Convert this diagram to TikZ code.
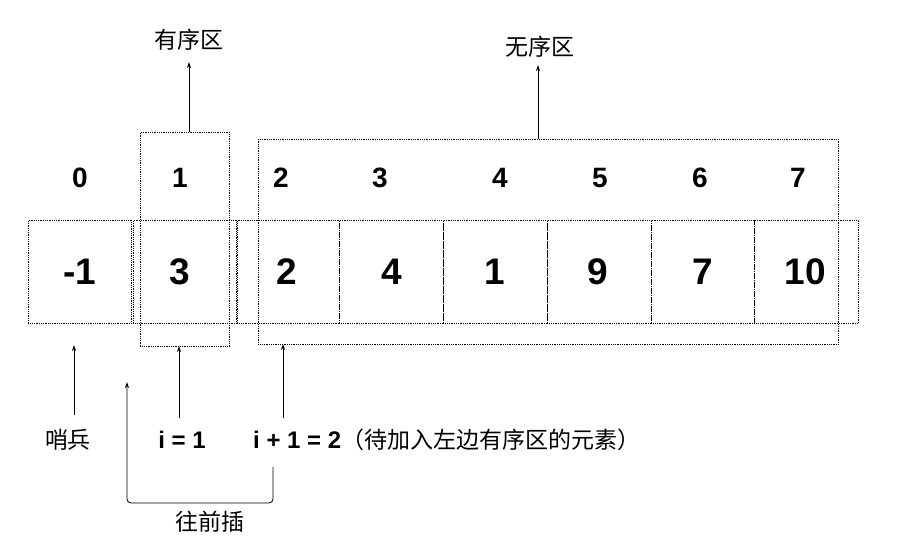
\documentclass[tikz,border=0pt]{standalone}
\usepackage{fontspec}
\setmainfont{Liberation Sans}
\newfontfamily\cjk{Noto Sans CJK SC}
\usetikzlibrary{arrows.meta}
\begin{document}
\begin{tikzpicture}[x=1pt,y=-1pt,
  dot/.style={draw,densely dotted,line width=0.8pt},
  idx/.style={font=\fontsize{28}{30}\selectfont\bfseries},
  val/.style={font=\fontsize{37}{39}\selectfont\bfseries},
  lab/.style={font=\fontsize{24}{26}\selectfont\bfseries},
  zh/.style={font=\fontsize{23}{26}\selectfont\cjk},
  arr/.style={-{Stealth[length=6pt,width=4pt]},line width=0.8pt}]
\useasboundingbox (0,0) rectangle (908,545);
% cells
\foreach \a/\b/\n in {28/131/c0,133/236/c1,237/339/c2,339/443/c3,443/547/c4,547/651/c5,651/754/c6,754/858/c7}
  \node[dot,minimum width={\b-\a},minimum height=103,inner sep=0,anchor=north west] (\n) at (\a,220) {};
% region boxes
\node[dot,minimum width=89,minimum height=214,inner sep=0,anchor=north west] (ord) at (140,132) {};
\node[dot,minimum width=580,minimum height=205,inner sep=0,anchor=north west] (unord) at (258,139) {};
% indices
\foreach \x/\t in {80/0,180/1,281/2,380/3,500/4,600/5,700/6,798/7}
  \node[idx] at (\x,178) {\t};
% values
\foreach \x/\t in {80/-1,180/3,287/2,392/4,495/1,598/9,703/7,805/10}
  \node[val] at (\x,272) {\t};
% top labels
\node[zh] (lord) at (189,40) {有序区};
\node[zh] (lun) at (540,47) {无序区};
\draw[arr] (189,132) -- (189,62);
\draw[arr] (538,139) -- (538,65);
% bottom labels
\node[zh] (shao) at (68,440) {哨兵};
\node[lab] (i1) at (182,440) {i = 1};
\node[anchor=west,inner sep=0] (i2) at (253,440) {\fontsize{24}{26}\selectfont\bfseries i + 1 = 2\cjk\mdseries\fontsize{23}{26}\selectfont（待加入左边有序区的元素）};
\coordinate (s0) at (74,415);
\coordinate (s1) at (179,418);
\coordinate (s2) at (283,418);
\draw[arr] (s0) -- (74,345);
\draw[arr] (s1) -- (179,346);
\draw[arr] (s2) -- (283,344);
\coordinate (b0) at (273,467);
\coordinate (b1) at (127,382);
\draw[arr,rounded corners=4pt] (b0) -- (273,503) -- (127,503) -- (b1);
\node[zh] (ins) at (210,522) {往前插};
\end{tikzpicture}
\end{document}
